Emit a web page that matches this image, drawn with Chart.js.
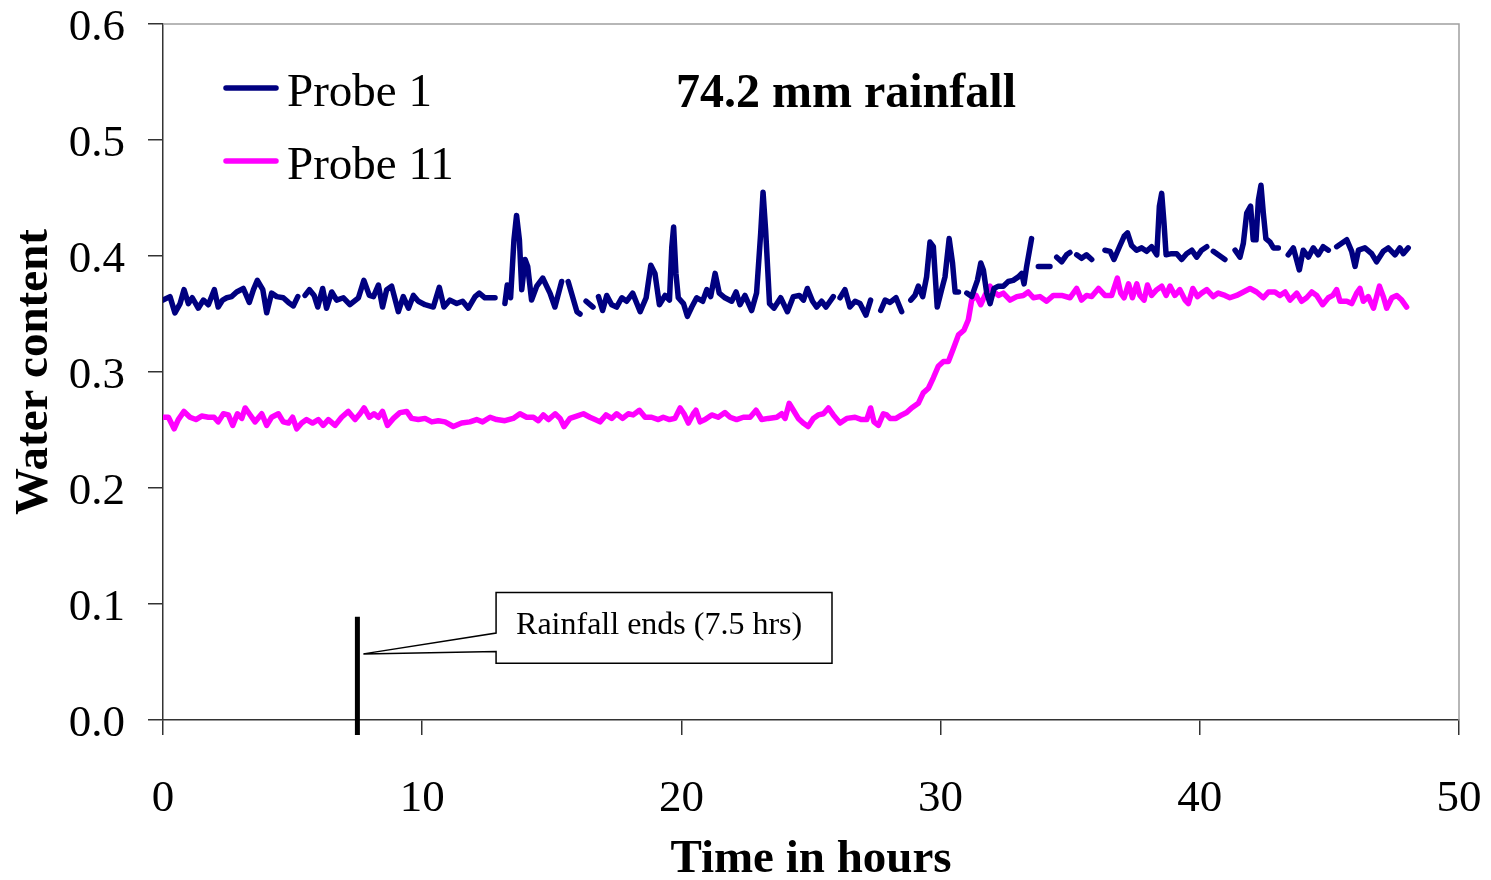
<!DOCTYPE html>
<html>
<head>
<meta charset="utf-8">
<title>Water content after 74.2 mm rainfall</title>
<script src="https://cdn.jsdelivr.net/npm/chart.js@4.4.1/dist/chart.umd.min.js"></script>
<style>
  html, body { margin: 0; padding: 0; background: #fff; }
  #wrap { width: 1491px; height: 880px; }
</style>
</head>
<body>
<div id="wrap"><canvas id="waterChart" width="1491" height="880"></canvas></div>
<script>
// Probe 1 readings (hours, water content); null = logger gap
const probe1Hours = [
  0.00, 0.27, 0.46, 0.66, 0.81, 0.98, 1.13, 1.36, 1.56, 1.75, 1.98, 2.13, 2.30, 2.46, 2.65, 2.84,
  3.10, 3.33, 3.49, 3.64, 3.85, 4.00, 4.19, 4.39, 4.64, 4.84, 5.03, 5.20, 5.34, 5.48, 5.65, 5.83,
  5.97, 6.16, 6.31, 6.51, 6.70, 6.96, 7.21, 7.54, 7.75, 7.96, 8.12, 8.31, 8.47, 8.63, 8.82, 9.08,
  9.27, 9.47, 9.66, 9.85, 10.11, 10.43, 10.66, 10.84, 11.07, 11.33, 11.56, 11.78, 12.04, 12.20, 12.42, 12.81,
  13.00, 13.19, 13.28, 13.41, 13.54, 13.64, 13.75, 13.84, 13.97, 14.07, 14.22, 14.42, 14.65, 14.93, 15.12, 15.38,
  15.50, 15.63, 15.97, 16.09, 16.20, 16.32, 16.59, 16.70, 16.80, 16.96, 17.12, 17.31, 17.50, 17.70, 17.89, 18.12,
  18.41, 18.64, 18.82, 18.98, 19.15, 19.37, 19.54, 19.63, 19.70, 19.79, 19.88, 20.08, 20.23, 20.40, 20.59, 20.82,
  20.98, 21.13, 21.30, 21.46, 21.68, 21.94, 22.11, 22.26, 22.45, 22.71, 22.90, 23.06, 23.15, 23.25, 23.40, 23.57,
  23.83, 24.09, 24.32, 24.55, 24.71, 24.86, 25.06, 25.22, 25.41, 25.58, 25.86, 25.99, 26.12, 26.31, 26.50, 26.70,
  26.89, 27.12, 27.30, 27.50, 27.69, 27.86, 28.05, 28.28, 28.50, 28.68, 28.85, 29.01, 29.14, 29.31, 29.46, 29.59,
  29.72, 29.87, 30.04, 30.17, 30.33, 30.46, 30.56, 30.69, 30.85, 31.01, 31.20, 31.42, 31.55, 31.65, 31.78, 31.91,
  32.06, 32.23, 32.42, 32.61, 32.80, 33.00, 33.13, 33.22, 33.32, 33.51, 33.64, 33.77, 34.22, 34.35, 34.48, 34.67,
  34.86, 34.99, 35.12, 35.25, 35.44, 35.63, 35.83, 36.10, 36.34, 36.54, 36.69, 36.90, 37.08, 37.21, 37.37, 37.56,
  37.76, 37.95, 38.14, 38.34, 38.44, 38.53, 38.62, 38.70, 38.91, 39.11, 39.30, 39.49, 39.69, 39.88, 40.07, 40.27,
  40.40, 40.52, 40.97, 41.16, 41.36, 41.55, 41.68, 41.81, 41.96, 42.06, 42.17, 42.26, 42.36, 42.45, 42.55, 42.71,
  42.84, 43.03, 43.22, 43.41, 43.61, 43.84, 43.99, 44.19, 44.38, 44.57, 44.76, 44.96, 45.12, 45.28, 45.67, 45.86,
  45.99, 46.12, 46.37, 46.63, 46.82, 47.08, 47.27, 47.53, 47.72, 47.85, 48.04
];
const probe1Water = [
  0.362, 0.365, 0.351, 0.359, 0.371, 0.359, 0.364, 0.355, 0.362, 0.358, 0.371, 0.356, 0.362, 0.364, 0.365, 0.369,
  0.372, 0.360, 0.371, 0.379, 0.371, 0.351, 0.368, 0.365, 0.364, 0.360, 0.357, 0.365, null, 0.366, 0.371, 0.366,
  0.356, 0.372, 0.355, 0.369, 0.362, 0.364, 0.358, 0.364, 0.379, 0.366, 0.365, 0.375, 0.356, 0.371, 0.374, 0.352,
  0.365, 0.355, 0.366, 0.361, 0.358, 0.356, 0.373, 0.356, 0.362, 0.359, 0.361, 0.355, 0.365, 0.368, 0.364, 0.364,
  null, 0.359, 0.375, 0.364, 0.414, 0.435, 0.414, 0.371, 0.397, 0.391, 0.362, 0.374, 0.381, 0.368, 0.356, 0.378,
  null, 0.378, 0.352, 0.350, null, 0.361, 0.356, null, 0.365, 0.353, 0.366, 0.358, 0.356, 0.364, 0.361, 0.368,
  0.352, 0.364, 0.392, 0.385, 0.358, 0.366, 0.362, 0.408, 0.425, 0.385, 0.364, 0.359, 0.348, 0.356, 0.364, 0.361,
  0.371, 0.365, 0.385, 0.368, 0.364, 0.361, 0.369, 0.358, 0.366, 0.353, 0.368, 0.420, 0.455, 0.422, 0.359, 0.355,
  0.364, 0.352, 0.365, 0.366, 0.362, 0.372, 0.361, 0.356, 0.361, 0.356, 0.365, null, 0.364, 0.371, 0.356, 0.361,
  0.359, 0.349, 0.362, null, 0.353, 0.362, 0.360, 0.364, 0.352, null, 0.362, 0.366, 0.374, 0.365, 0.382, 0.412,
  0.408, 0.356, 0.371, 0.382, 0.415, 0.394, 0.369, 0.369, null, 0.368, 0.365, 0.379, 0.394, 0.388, 0.368, 0.359,
  0.372, 0.374, 0.374, 0.378, 0.379, 0.382, 0.385, 0.376, 0.391, 0.415, null, 0.391, 0.391, null, 0.399, 0.395,
  0.401, 0.403, null, 0.401, 0.398, 0.401, 0.397, null, 0.405, 0.404, 0.397, 0.408, 0.417, 0.420, 0.409, 0.405,
  0.407, 0.404, 0.408, 0.401, 0.443, 0.454, 0.428, 0.401, 0.402, 0.402, 0.397, 0.402, 0.405, 0.399, 0.405, 0.408,
  null, 0.404, 0.397, null, 0.405, 0.399, 0.411, 0.437, 0.443, 0.414, 0.414, 0.448, 0.461, 0.437, 0.415, 0.412,
  0.407, 0.407, null, 0.401, 0.407, 0.388, 0.405, 0.399, 0.407, 0.401, 0.408, 0.405, null, 0.408, 0.414, 0.404,
  0.391, 0.405, 0.407, 0.402, 0.395, 0.404, 0.407, 0.401, 0.407, 0.402, 0.407
];

// Probe 11 readings (hours, water content)
const probe11Hours = [
  0.00, 0.21, 0.43, 0.59, 0.81, 1.04, 1.27, 1.49, 1.75, 1.97, 2.13, 2.33, 2.52, 2.69, 2.87, 3.04,
  3.17, 3.33, 3.55, 3.81, 4.00, 4.19, 4.45, 4.64, 4.84, 5.00, 5.16, 5.35, 5.54, 5.77, 5.99, 6.18,
  6.38, 6.64, 6.89, 7.15, 7.41, 7.60, 7.76, 7.96, 8.14, 8.31, 8.47, 8.66, 8.89, 9.14, 9.40, 9.59,
  9.85, 10.11, 10.37, 10.62, 10.88, 11.20, 11.52, 11.84, 12.10, 12.33, 12.62, 12.87, 13.19, 13.51, 13.77, 14.03,
  14.29, 14.48, 14.67, 14.87, 15.13, 15.32, 15.47, 15.70, 15.96, 16.22, 16.47, 16.67, 16.86, 17.09, 17.31, 17.50,
  17.73, 17.95, 18.14, 18.38, 18.60, 18.85, 19.11, 19.30, 19.54, 19.75, 19.95, 20.10, 20.27, 20.46, 20.56, 20.72,
  20.91, 21.17, 21.42, 21.68, 21.88, 22.13, 22.39, 22.65, 22.88, 23.10, 23.35, 23.68, 23.87, 24.00, 24.16, 24.32,
  24.51, 24.70, 24.89, 25.09, 25.28, 25.48, 25.67, 25.86, 26.12, 26.38, 26.70, 26.95, 27.15, 27.30, 27.43, 27.60,
  27.79, 27.92, 28.05, 28.28, 28.50, 28.69, 28.88, 29.14, 29.33, 29.53, 29.72, 29.91, 30.11, 30.30, 30.49, 30.69,
  30.90, 31.07, 31.20, 31.37, 31.55, 31.71, 31.91, 32.06, 32.23, 32.42, 32.68, 32.94, 33.19, 33.38, 33.58, 33.83,
  34.09, 34.35, 34.67, 34.99, 35.25, 35.44, 35.63, 35.83, 36.09, 36.34, 36.60, 36.82, 36.95, 37.08, 37.25, 37.40,
  37.57, 37.69, 37.85, 37.98, 38.14, 38.34, 38.53, 38.70, 38.85, 39.04, 39.23, 39.43, 39.56, 39.73, 39.91, 40.07,
  40.27, 40.52, 40.71, 40.97, 41.16, 41.42, 41.68, 41.94, 42.19, 42.45, 42.65, 42.90, 43.09, 43.29, 43.48, 43.74,
  43.93, 44.12, 44.32, 44.51, 44.74, 44.96, 45.13, 45.28, 45.41, 45.67, 45.86, 46.05, 46.18, 46.31, 46.50, 46.70,
  46.93, 47.08, 47.21, 47.41, 47.60, 47.79, 47.98
];
const probe11Water = [
  0.261, 0.261, 0.251, 0.259, 0.266, 0.261, 0.259, 0.262, 0.261, 0.261, 0.257, 0.264, 0.263, 0.254, 0.264, 0.260,
  0.269, 0.264, 0.257, 0.264, 0.254, 0.261, 0.264, 0.257, 0.256, 0.261, 0.251, 0.256, 0.259, 0.256, 0.259, 0.254,
  0.259, 0.254, 0.261, 0.266, 0.259, 0.264, 0.269, 0.261, 0.264, 0.261, 0.266, 0.254, 0.260, 0.265, 0.266, 0.260,
  0.259, 0.260, 0.257, 0.258, 0.257, 0.253, 0.256, 0.257, 0.259, 0.257, 0.261, 0.259, 0.258, 0.260, 0.264, 0.261,
  0.261, 0.258, 0.263, 0.259, 0.264, 0.260, 0.253, 0.260, 0.262, 0.264, 0.261, 0.259, 0.257, 0.263, 0.260, 0.264,
  0.260, 0.264, 0.263, 0.267, 0.261, 0.261, 0.259, 0.261, 0.259, 0.260, 0.269, 0.264, 0.256, 0.264, 0.267, 0.257,
  0.259, 0.263, 0.261, 0.265, 0.261, 0.259, 0.261, 0.261, 0.267, 0.259, 0.260, 0.261, 0.264, 0.260, 0.273, 0.267,
  0.260, 0.256, 0.253, 0.260, 0.263, 0.264, 0.269, 0.263, 0.256, 0.260, 0.261, 0.259, 0.259, 0.269, 0.257, 0.254,
  0.264, 0.263, 0.260, 0.260, 0.263, 0.265, 0.269, 0.273, 0.282, 0.286, 0.295, 0.305, 0.309, 0.309, 0.320, 0.332,
  0.336, 0.345, 0.362, 0.366, 0.358, 0.366, 0.374, 0.369, 0.366, 0.368, 0.362, 0.365, 0.366, 0.369, 0.364, 0.365,
  0.361, 0.366, 0.366, 0.364, 0.372, 0.362, 0.366, 0.365, 0.372, 0.366, 0.366, 0.381, 0.368, 0.364, 0.376, 0.364,
  0.376, 0.366, 0.362, 0.375, 0.366, 0.371, 0.374, 0.366, 0.374, 0.366, 0.371, 0.362, 0.359, 0.372, 0.365, 0.368,
  0.371, 0.365, 0.368, 0.366, 0.364, 0.366, 0.369, 0.372, 0.369, 0.364, 0.369, 0.369, 0.366, 0.369, 0.362, 0.368,
  0.361, 0.364, 0.369, 0.366, 0.358, 0.364, 0.366, 0.371, 0.361, 0.361, 0.359, 0.368, 0.372, 0.361, 0.365, 0.355,
  0.374, 0.365, 0.355, 0.364, 0.366, 0.362, 0.356
];

const seriesNames = ['Probe 1', 'Probe 11'];
const seriesColors = ['#000080', '#ff00ff'];
const chartTitle = '74.2 mm rainfall';
const xTitle = 'Time in hours';
const yTitle = 'Water content';

// end of rainfall marker and its callout
const rainEndHours = 7.5;
const rainEndLabel = 'Rainfall ends (7.5 hrs)';
const markerTop = 0.089;
const calloutBox = { x0: 12.85, x1: 25.81, yTop: 0.110, yBottom: 0.049, armTop: 0.075, armBottom: 0.059, tipY: 0.057 };

const SERIF = '"Liberation Serif", "Times New Roman", serif';

function toPoints(hours, values) {
  return hours.map((h, i) => ({ x: h, y: values[i] }));
}

const overlay = {
  id: 'overlay',
  afterDraw(chart) {
    const { ctx, chartArea: a, scales: { x, y } } = chart;
    ctx.save();

    // grey frame on top and right
    ctx.strokeStyle = '#a0a0a0';
    ctx.lineWidth = 1.5;
    ctx.beginPath();
    ctx.moveTo(a.left, a.top);
    ctx.lineTo(a.right, a.top);
    ctx.lineTo(a.right, a.bottom);
    ctx.stroke();

    // rainfall end bar
    const mx = x.getPixelForValue(rainEndHours);
    ctx.strokeStyle = '#000';
    ctx.lineWidth = 5;
    ctx.beginPath();
    ctx.moveTo(mx, y.getPixelForValue(markerTop));
    ctx.lineTo(mx, a.bottom + 15);
    ctx.stroke();

    // callout box with pointer
    const bx0 = x.getPixelForValue(calloutBox.x0);
    const bx1 = x.getPixelForValue(calloutBox.x1);
    const by0 = y.getPixelForValue(calloutBox.yTop);
    const by1 = y.getPixelForValue(calloutBox.yBottom);
    ctx.beginPath();
    ctx.moveTo(bx0, by0);
    ctx.lineTo(bx1, by0);
    ctx.lineTo(bx1, by1);
    ctx.lineTo(bx0, by1);
    ctx.lineTo(bx0, y.getPixelForValue(calloutBox.armBottom));
    ctx.lineTo(mx + 6, y.getPixelForValue(calloutBox.tipY));
    ctx.lineTo(bx0, y.getPixelForValue(calloutBox.armTop));
    ctx.closePath();
    ctx.fillStyle = '#fff';
    ctx.fill();
    ctx.lineWidth = 1.5;
    ctx.strokeStyle = '#000';
    ctx.stroke();
    ctx.fillStyle = '#000';
    ctx.font = '32px ' + SERIF;
    ctx.textBaseline = 'alphabetic';
    ctx.textAlign = 'left';
    ctx.fillText(rainEndLabel, bx0 + 20, by0 + 42);

    // legend
    ctx.lineCap = 'round';
    ctx.lineWidth = 5.5;
    ctx.font = '47px ' + SERIF;
    seriesNames.forEach((name, i) => {
      const ly = a.top + 64 + i * 73;
      ctx.strokeStyle = seriesColors[i];
      ctx.beginPath();
      ctx.moveTo(a.left + 63, ly);
      ctx.lineTo(a.left + 113, ly);
      ctx.stroke();
      ctx.fillText(name, a.left + 124, ly + 18);
    });

    // chart heading
    ctx.font = 'bold 48px ' + SERIF;
    ctx.fillText(chartTitle, a.left + 513, a.top + 83);
    ctx.restore();
  }
};

new Chart(document.getElementById('waterChart'), {
  type: 'line',
  data: {
    datasets: [
      {
        label: seriesNames[0],
        data: toPoints(probe1Hours, probe1Water),
        borderColor: seriesColors[0],
        backgroundColor: seriesColors[0],
        borderWidth: 5.5,
        borderCapStyle: 'round',
        borderJoinStyle: 'round',
        pointRadius: 0,
        tension: 0,
        spanGaps: false,
        fill: false
      },
      {
        label: seriesNames[1],
        data: toPoints(probe11Hours, probe11Water),
        borderColor: seriesColors[1],
        backgroundColor: seriesColors[1],
        borderWidth: 5.5,
        borderCapStyle: 'round',
        borderJoinStyle: 'round',
        pointRadius: 0,
        tension: 0,
        fill: false
      }
    ]
  },
  options: {
    responsive: false,
    animation: false,
    layout: { padding: { top: 24, right: 32, left: 0, bottom: 0 } },
    plugins: { legend: { display: false }, tooltip: { enabled: false } },
    scales: {
      x: {
        type: 'linear',
        min: 0,
        max: 50,
        // fixed axis band; tick labels may hang past the plot edges
        afterFit: s => { s.height = 160; s.paddingLeft = 0; s.paddingRight = 0; },
        ticks: { stepSize: 10, color: '#000', padding: 42, font: { family: SERIF, size: 45, lineHeight: 1 } },
        grid: { drawOnChartArea: false, drawTicks: true, tickLength: 15, color: '#333', lineWidth: 1.5 },
        border: { color: '#333', width: 1.5 },
        title: { display: true, text: xTitle, color: '#000', padding: 0, font: { family: SERIF, size: 47, weight: 'bold', lineHeight: 0.85 } }
      },
      y: {
        min: 0,
        max: 0.6,
        afterFit: s => { s.width = 163; s.paddingTop = 0; s.paddingBottom = 0; },
        ticks: { stepSize: 0.1, color: '#000', padding: 23, labelOffset: 4, font: { family: SERIF, size: 45, lineHeight: 1 },
          callback: v => Number(v).toFixed(1) },
        grid: { drawOnChartArea: false, drawTicks: true, tickLength: 15, color: '#333', lineWidth: 1.5 },
        border: { color: '#333', width: 1.5 },
        title: { display: true, text: yTitle, color: '#000', padding: { top: 7, bottom: 0 }, font: { family: SERIF, size: 47, weight: 'bold', lineHeight: 1.2 } }
      }
    }
  },
  plugins: [overlay]
});
</script>
</body>
</html>
